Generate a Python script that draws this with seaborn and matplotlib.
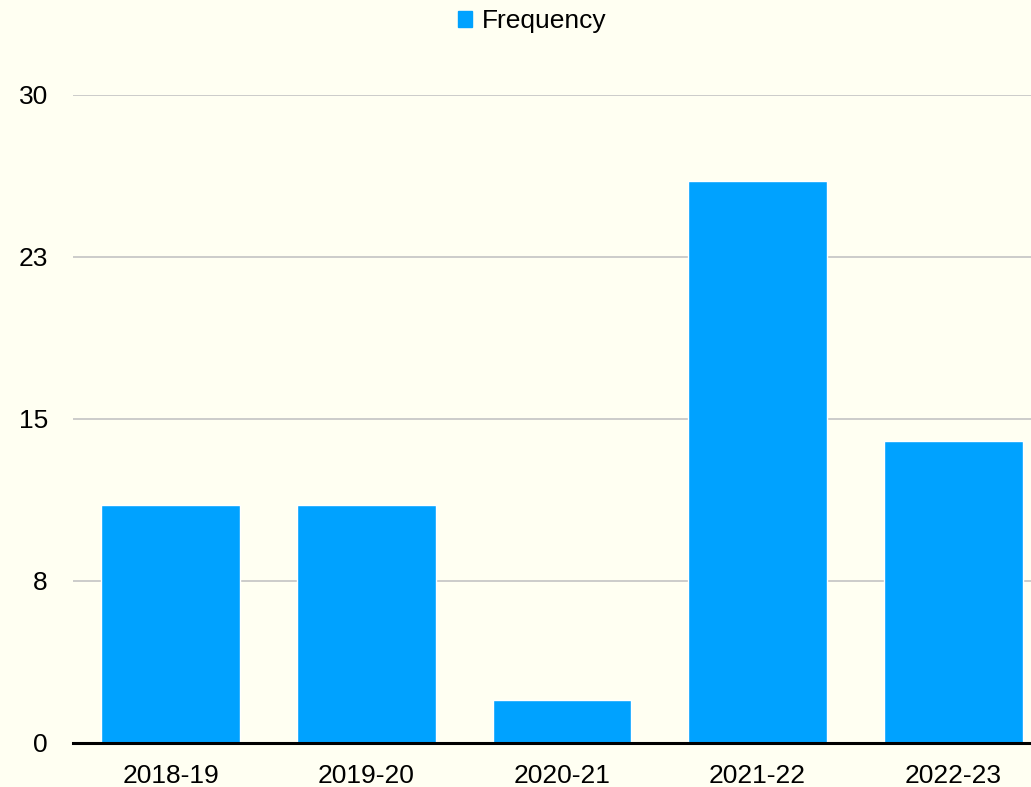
import pandas as pd
import matplotlib
matplotlib.use("Agg")
import matplotlib.pyplot as plt
import seaborn as sns
from matplotlib.patches import Patch

# data
seasons = ["2018-19", "2019-20", "2020-21", "2021-22", "2022-23"]
frequency = [11, 11, 2, 26, 14]
tick_values = [0, 7.5, 15, 22.5, 30]
tick_labels = ["0", "8", "15", "23", "30"]

bg = "#FFFFF2"
bar_color = "#00A2FF"

df = pd.DataFrame({"season": seasons, "Frequency": frequency})

sns.set_style("white")
plt.rcParams["font.family"] = ["Liberation Sans", "DejaVu Sans"]
plt.rcParams["text.color"] = "black"

fig = plt.figure(figsize=(10.31, 7.87), dpi=100, facecolor=bg)
# plot area runs past the right edge, like the original
ax = fig.add_axes([73 / 1031, 44 / 787, 978 / 1031, 648 / 787])
ax.set_facecolor(bg)

sns.barplot(data=df, x="season", y="Frequency", color=bar_color,
            width=0.71, saturation=1, ax=ax, zorder=3)

ax.set_ylim(0, 30)
ax.set_xlim(-0.5, len(seasons) - 0.5)
ax.set_yticks(tick_values)
ax.set_yticklabels(tick_labels)
ax.yaxis.grid(True, color="#C4C4C4", linewidth=1.2, zorder=0)
ax.set_axisbelow(True)

for side in ["top", "right", "left"]:
    ax.spines[side].set_visible(False)
ax.spines["bottom"].set_color("black")
ax.spines["bottom"].set_linewidth(2.2)
ax.spines["bottom"].set_zorder(4)

ax.tick_params(axis="both", length=0, labelsize=19, colors="black")
ax.tick_params(axis="y", pad=18)
ax.tick_params(axis="x", pad=15)
ax.set_xlabel("")
ax.set_ylabel("")

fig.legend(handles=[Patch(color=bar_color, label="Frequency")],
           loc="center", bbox_to_anchor=(532 / 1031, 1 - 21 / 787),
           frameon=False, fontsize=19, handlelength=0.55, handleheight=0.55,
           handletextpad=0.35, labelcolor="black")

fig.savefig("out.png", dpi=100, facecolor=bg)
